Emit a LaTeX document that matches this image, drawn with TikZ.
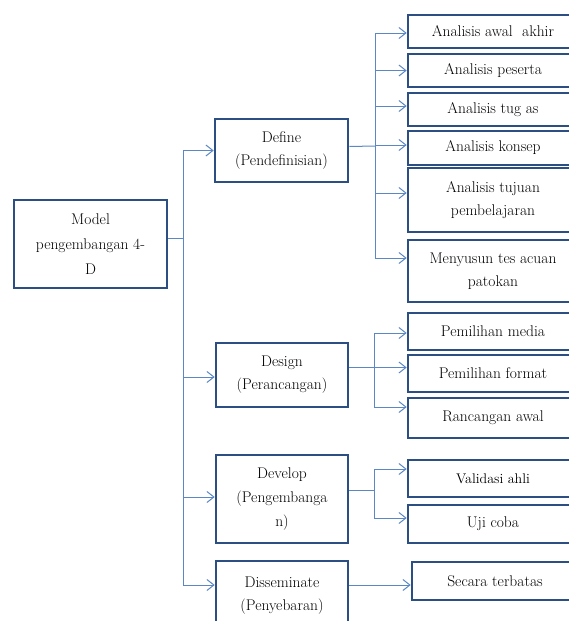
\documentclass[tikz,border=0pt]{standalone}
\usepackage{fontspec}
\usetikzlibrary{arrows.meta}
\definecolor{boxblue}{HTML}{2B4F82}
\definecolor{linkblue}{HTML}{5B87C5}
\begin{document}
\begin{tikzpicture}[x=1pt,y=-1pt,
  box/.style={draw=boxblue, line width=2.6pt, fill=white, rectangle, align=center,
    inner sep=0pt, font=\fontsize{15.5}{23}\selectfont},
  conn/.style={draw=linkblue, line width=1pt},
  arr/.style={conn, -{Straight Barb[length=7pt,width=11pt,line width=1pt]}}]
\useasboundingbox (0,0) rectangle (569,621);
\clip (0,0) rectangle (569,621);
% main boxes
\node[box, minimum width=153pt, minimum height=88pt, font=\fontsize{15.5}{25}\selectfont] (model) at (90.5,244) {Model\\pengembangan 4-\\D};
\node[box, minimum width=133pt, minimum height=63pt] (def) at (281.5,150.5) {Define\\(Pendefinisian)};
\node[box, minimum width=132pt, minimum height=64pt] (des) at (282,375) {Design\\(Perancangan)};
\node[box, minimum width=132pt, minimum height=88pt, font=\fontsize{15.5}{24}\selectfont] (dev) at (282,499) {Develop\\(Pengembanga\\n)};
\node[box, minimum width=132pt, minimum height=70pt] (dis) at (282,596) {Disseminate\\(Penyebaran)};
% define subs
\node[box, minimum width=170pt, minimum height=33pt] (a1) at (493,31.5) {Analisis awal\ \ akhir};
\node[box, minimum width=170pt, minimum height=33pt] (a2) at (493,70.5) {Analisis peserta};
\node[box, minimum width=170pt, minimum height=33pt] (a3) at (493,109.5) {Analisis tug as};
\node[box, minimum width=170pt, minimum height=34pt] (a4) at (493,148) {Analisis konsep};
\node[box, minimum width=170pt, minimum height=64pt] (a5) at (493,200) {Analisis tujuan\\pembelajaran};
\node[box, minimum width=170pt, minimum height=62pt] (a6) at (493,271) {Menyusun tes acuan\\patokan};
% design subs
\node[box, minimum width=170pt, minimum height=37pt] (p1) at (493,331.5) {Pemilihan media};
\node[box, minimum width=170pt, minimum height=37pt] (p2) at (493,373.5) {Pemilihan format};
\node[box, minimum width=170pt, minimum height=40pt] (p3) at (493,418) {Rancangan awal};
% develop subs
\node[box, minimum width=170pt, minimum height=37pt, font=\fontsize{14}{23}\selectfont] (v1) at (493,478.5) {Validasi ahli};
\node[box, minimum width=170pt, minimum height=38pt] (v2) at (493,524) {Uji coba};
% disseminate sub
\node[box, minimum width=166pt, minimum height=38pt] (s1) at (495,581) {Secara terbatas};
% trunk
\coordinate (tr) at (183,238);
\draw[conn] (model.east |- tr) -- (tr);
\draw[arr] (tr) |- (def.west);
\draw[arr] (tr) |- ([yshift=-2pt]des.west);
\draw[arr] (tr) |- ([yshift=2pt]dev.west);
\draw[arr] (tr) |- ([yshift=11pt]dis.west);
% define branch
\coordinate (bd) at (375,146);
\draw[conn] ([yshift=4pt]def.east) -- (bd);
\draw[arr] (bd) |- ([yshift=-1.5pt]a1.west);
\draw[arr] (bd) |- (a2.west);
\draw[arr] (bd) |- ([yshift=3.5pt]a3.west);
\draw[arr] (bd) |- ([yshift=3pt]a4.west);
\draw[arr] (bd) |- ([yshift=7pt]a5.west);
\draw[arr] (bd) |- ([yshift=13pt]a6.west);
% design branch
\coordinate (bs) at (374,367);
\draw[conn] ([yshift=8pt]des.east) -- (bs);
\draw[arr] (bs) |- ([yshift=-1.5pt]p1.west);
\draw[arr] (bs) |- ([yshift=6pt]p2.west);
\draw[arr] (bs) |- ([yshift=11pt]p3.west);
% develop branch
\coordinate (bv) at (374,490);
\draw[conn] ([yshift=9pt]dev.east) -- (bv);
\draw[arr] (bv) |- ([yshift=9.5pt]v1.west);
\draw[arr] (bv) |- ([yshift=6pt]v2.west);
% disseminate
\draw[arr] ([yshift=11pt]dis.east) -- (s1.west |- 0,585);
\end{tikzpicture}
\end{document}
